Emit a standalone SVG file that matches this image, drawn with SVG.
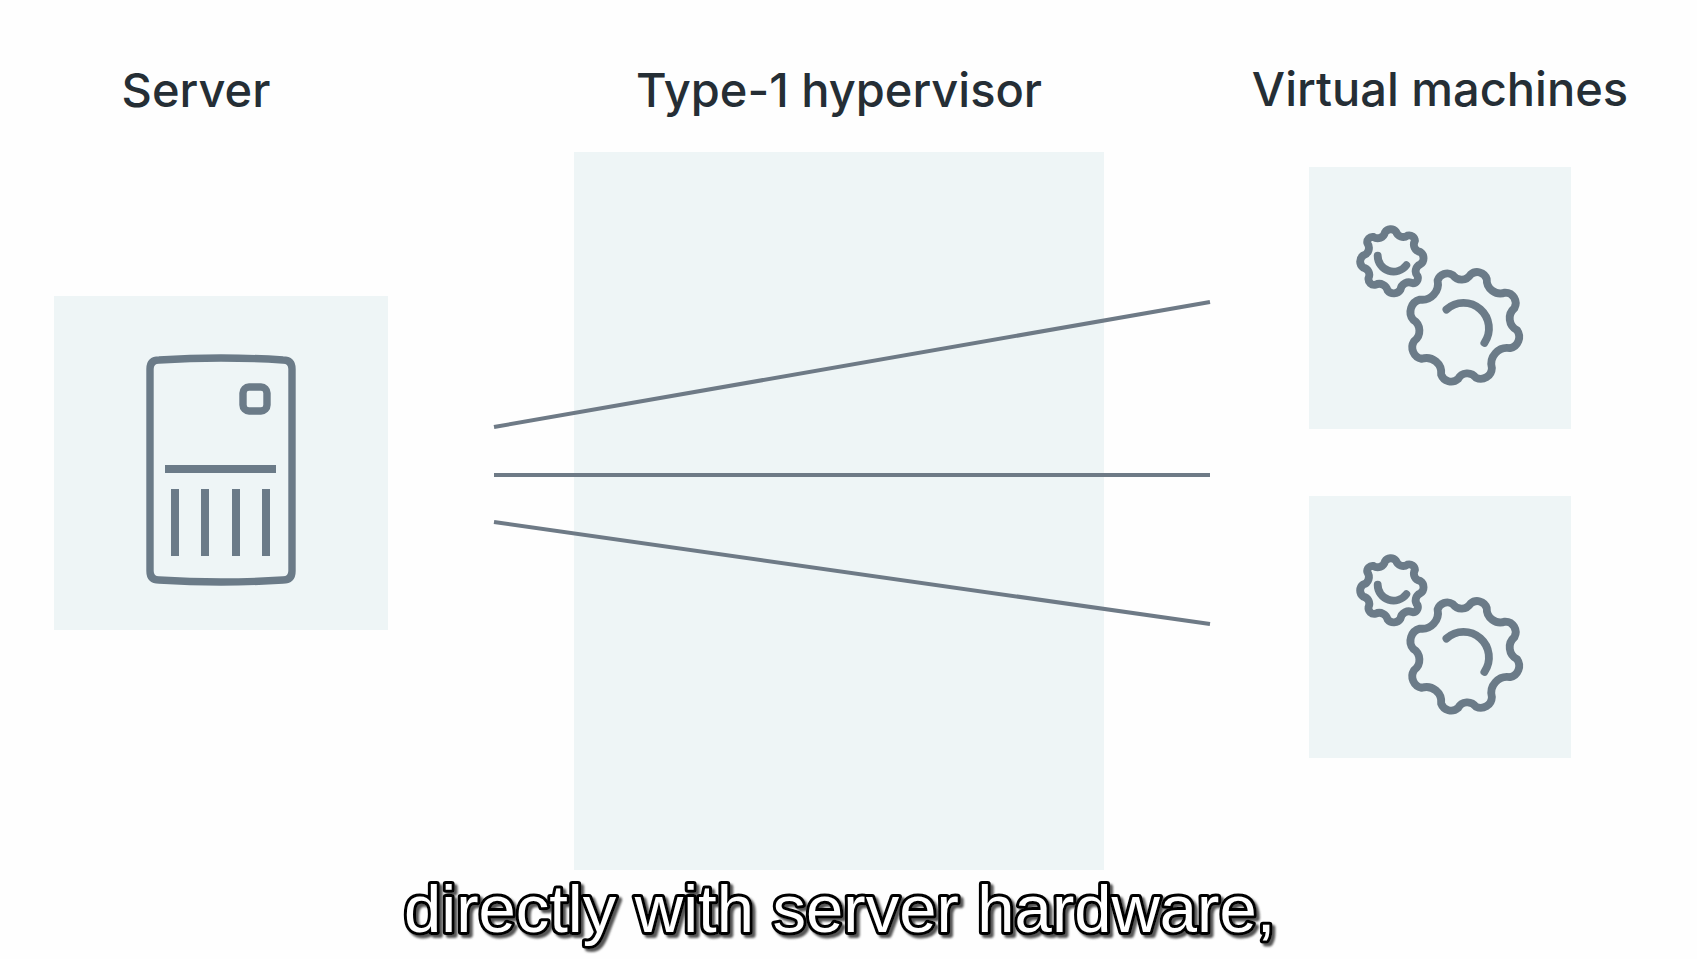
<svg xmlns="http://www.w3.org/2000/svg" width="1697" height="959" viewBox="0 0 1697 959">
<style>
.box{fill:#eef5f6}
.head{font-family:Inter,"Liberation Sans",sans-serif;font-weight:500;font-size:47px;fill:#252e35;text-anchor:middle}
.ic{fill:none;stroke:#6b7b88;stroke-width:7.4;stroke-linecap:round;stroke-linejoin:round}
.conn{fill:none;stroke:#6e7a86;stroke-width:4}
.bar{fill:#6b7b88}
.cap{font-family:"Liberation Sans",Arial,sans-serif;font-size:67px;fill:#fff;stroke:#000;stroke-width:6px;paint-order:stroke;stroke-linejoin:round;filter:url(#sh)}
</style>
<defs>
<filter id="sh" x="-5%" y="-20%" width="110%" height="150%"><feDropShadow dx="3" dy="3" stdDeviation="1" flood-color="#555" flood-opacity="1"/></filter>
<g id="gears">
<g transform="translate(1392 261) scale(1.06)"><path class="ic" d="M-6.7-26.85A6.5 6.5 0 0 1 3.8-27.65A7 7 0 0 0 14.65-24A5.5 5.5 0 0 1 21.65-19A7 7 0 0 0 26.65-8.5A7 7 0 0 1 26.65 3.15A7 7 0 0 0 24.15 14.35A5 5 0 0 1 19.65 21A8 8 0 0 0 8 27A7.5 7.5 0 0 1-4.15 27.85A8 8 0 0 0-15.5 22.35A5.5 5.5 0 0 1-22.15 16.2A7 7 0 0 0-27.15 6.2A7 7 0 0 1-27.15-5.15A7.5 7.5 0 0 0-23.3-16.85A5 5 0 0 1-17.5-22.7A7 7 0 0 0-6.7-26.85Z"/><path class="ic" d="M-13.5-5A15 15 0 0 0 13.5 4"/></g>
<g transform="translate(1465 327) scale(1.06)"><path class="ic" d="M-25.85-43.85A9.5 9.5 0 0 1-11.35-48.85A10 10 0 0 0 5.3-49.5A9.5 9.5 0 0 1 20.5-45.35A13 13 0 0 0 38-32.5A10 10 0 0 1 46.65-17.8A12.5 12.5 0 0 0 49.15 3A11 11 0 0 1 42.5 20A15 15 0 0 0 25.35 38.7A10.5 10.5 0 0 1 10.35 47.85A10 10 0 0 0-6.65 49.15A10 10 0 0 1-22.5 45A14 14 0 0 0-40.85 30A11 11 0 0 1-48 13.3A12 12 0 0 0-48.8-6.7A12 12 0 0 1-42.5-25.85A15 15 0 0 0-25.85-43.85Z"/><path class="ic" d="M-17.5-16.5A24 24 0 0 1 18.3 15"/></g>
</g>
</defs>
<rect width="1697" height="959" fill="#fefefe"/>
<g id="server">
<rect class="box" x="54" y="296" width="334" height="334"/>
<path class="ic" d="M159 360Q221 356 283 360Q292 360 292 369V571Q292 580 283 580Q221 584 159 580Q150 580 150 571V369Q150 360 159 360Z"/>
<rect class="ic" x="243" y="387" width="24" height="24" rx="6"/>
<rect class="bar" x="165" y="465" width="111" height="8"/>
<rect class="bar" x="171" y="489" width="8" height="67"/>
<rect class="bar" x="201" y="489" width="8" height="67"/>
<rect class="bar" x="232" y="489" width="8" height="67"/>
<rect class="bar" x="262" y="489" width="8" height="67"/>
<text class="head" x="196" y="107">Server</text>
</g>
<g id="hypervisor">
<rect class="box" x="574" y="152" width="530" height="718"/>
<text class="head" x="839" y="107">Type-1 hypervisor</text>
</g>
<g id="vm1">
<rect class="box" x="1309" y="167" width="262" height="262"/>
<use href="#gears"/>
</g>
<g id="vm2">
<rect class="box" x="1309" y="496" width="262" height="262"/>
<use href="#gears" y="329"/>
</g>
<text class="head" x="1440" y="106">Virtual machines</text>
<g id="connectors">
<line class="conn" x1="494" y1="427" x2="1210" y2="302"/>
<line class="conn" x1="494" y1="475" x2="1210" y2="475"/>
<line class="conn" x1="494" y1="522" x2="1210" y2="624"/>
</g>
<text class="cap" x="404" y="932">directly with server hardware,</text>
</svg>
